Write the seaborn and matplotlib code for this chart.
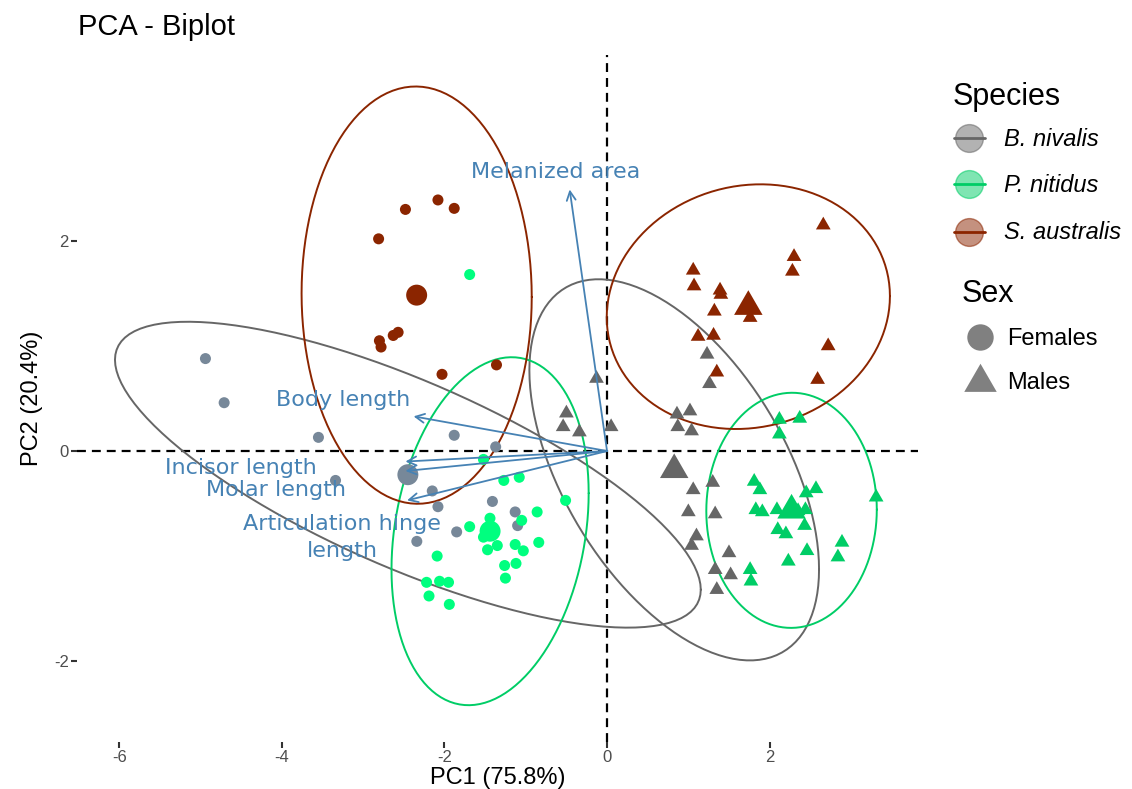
import numpy as np
import pandas as pd
import matplotlib
matplotlib.use("Agg")
import matplotlib.pyplot as plt
from matplotlib.colors import to_rgba
from matplotlib.lines import Line2D
import seaborn as sns

# PCA scores (PC1, PC2), by species and sex
bniv_fem_pc1 = [-4.94, -4.71, -3.55, -3.34, -1.88, -1.37, -2.15, -2.08, -1.41, -1.13, -1.10, -1.85, -2.34]
bniv_fem_pc2 = [0.88, 0.46, 0.13, -0.28, 0.15, 0.04, -0.38, -0.53, -0.48, -0.58, -0.71, -0.77, -0.86]
bniv_mal_pc1 = [-0.13, -0.50, -0.54, -0.34, 0.05, 1.23, 1.26, 0.86, 1.02, 0.87, 1.04, 1.30, 1.06,
                1.00, 1.33, 1.10, 1.04, 1.50, 1.33, 1.52, 1.35]
bniv_mal_pc2 = [0.69, 0.36, 0.23, 0.18, 0.23, 0.92, 0.64, 0.35, 0.38, 0.23, 0.19, -0.30, -0.37,
                -0.58, -0.60, -0.81, -0.90, -0.97, -1.13, -1.18, -1.32]
pnit_fem_pc1 = [-1.52, -1.27, -1.08, -0.51, -0.86, -1.05, -1.69, -1.44, -1.52, -1.47, -1.35, -1.13,
                -1.03, -0.84, -2.09, -1.26, -1.12, -1.25, -2.22, -2.06, -1.95, -2.19, -1.94, -1.69]
pnit_fem_pc2 = [-0.08, -0.28, -0.25, -0.47, -0.58, -0.66, -0.72, -0.64, -0.82, -0.94, -0.90, -0.89,
                -0.95, -0.87, -1.00, -1.09, -1.07, -1.21, -1.25, -1.24, -1.25, -1.38, -1.46, 1.68]
pnit_mal_pc1 = [2.12, 2.37, 2.12, 1.81, 1.88, 1.83, 1.91, 2.09, 2.35, 2.44, 2.45, 2.57, 2.43, 2.10,
                2.20, 2.46, 2.23, 2.89, 2.84, 3.31, 1.76, 1.77]
pnit_mal_pc2 = [0.30, 0.31, 0.16, -0.29, -0.37, -0.56, -0.58, -0.56, -0.57, -0.56, -0.40, -0.36,
                -0.71, -0.75, -0.79, -0.95, -1.05, -0.87, -1.01, -0.44, -1.13, -1.24]
saus_fem_pc1 = [-2.48, -2.08, -1.88, -2.81, -2.63, -2.57, -2.80, -2.78, -2.03, -1.36]
saus_fem_pc2 = [2.30, 2.39, 2.31, 2.02, 1.10, 1.13, 1.05, 0.99, 0.73, 0.82]
saus_mal_pc1 = [2.66, 2.30, 2.28, 1.06, 1.07, 1.39, 1.40, 1.76, 1.32, 1.12, 1.31, 2.72, 1.35, 2.59]
saus_mal_pc2 = [2.15, 1.85, 1.71, 1.72, 1.57, 1.53, 1.49, 1.27, 1.33, 1.09, 1.10, 1.00, 0.75, 0.68]

# variable arrows (loadings, scaled as in the biplot)
var_names = ["Melanized area", "Body length", "Incisor length", "Molar length",
             "Articulation hinge length"]
var_pc1 = [-0.46, -2.38, -2.48, -2.48, -2.46]
var_pc2 = [2.49, 0.33, -0.10, -0.19, -0.47]

species_names = ["B. nivalis", "P. nitidus", "S. australis"]
sex_names = ["Females", "Males"]

# colours
point_colors = {("B. nivalis", "Females"): "#778899", ("B. nivalis", "Males"): "#666666",
                ("P. nitidus", "Females"): "#00FF7F", ("P. nitidus", "Males"): "#00CD66",
                ("S. australis", "Females"): "#8B2500", ("S. australis", "Males"): "#8B2500"}
species_colors = {"B. nivalis": "#666666", "P. nitidus": "#00CD66", "S. australis": "#8B2500"}
arrow_col = "#4682B4"

# build long table
parts = [("B. nivalis", "Females", bniv_fem_pc1, bniv_fem_pc2),
         ("B. nivalis", "Males", bniv_mal_pc1, bniv_mal_pc2),
         ("P. nitidus", "Females", pnit_fem_pc1, pnit_fem_pc2),
         ("P. nitidus", "Males", pnit_mal_pc1, pnit_mal_pc2),
         ("S. australis", "Females", saus_fem_pc1, saus_fem_pc2),
         ("S. australis", "Males", saus_mal_pc1, saus_mal_pc2)]
df = pd.concat([pd.DataFrame({"species": sp, "sex": sx, "PC1": a, "PC2": b})
                for sp, sx, a, b in parts], ignore_index=True)
df["group"] = df["species"] + " " + df["sex"]
palette = {f"{sp} {sx}": c for (sp, sx), c in point_colors.items()}
means = df.groupby(["species", "sex", "group"], as_index=False)[["PC1", "PC2"]].mean()


def norm_ellipse(x, y, level=0.95, segments=120):
    # same construction as ggplot2 stat_ellipse(type = "norm")
    pts = np.column_stack([x, y])
    n = len(pts)
    center = pts.mean(axis=0)
    upper = np.linalg.cholesky(np.cov(pts, rowvar=False)).T
    dfd = n - 1
    qf = dfd / 2 * ((1 - level) ** (-2 / dfd) - 1)   # F(2, dfd) quantile
    radius = np.sqrt(2 * qf)
    ang = np.linspace(0, 2 * np.pi, segments + 1)
    circle = np.column_stack([np.cos(ang), np.sin(ang)])
    return center + radius * circle @ upper


# equilateral triangle like R pch 17, centred on its centroid
tri = [(0, 1), (-0.866, -0.5), (0.866, -0.5), (0, 1)]

sns.set_style("white")
plt.rcParams["font.family"] = ["Liberation Sans", "DejaVu Sans"]
plt.rcParams["axes.unicode_minus"] = False
plt.rcParams["text.color"] = "black"
plt.rcParams["axes.labelcolor"] = "black"

W, H = 1132, 789
fig = plt.figure(figsize=(W / 100, H / 100), dpi=100)
ax = fig.add_axes([77 / W, 1 - 742 / H, (918 - 77) / W, (742 - 55) / H])

ax.axhline(0, color="black", ls=(0, (4, 2.7)), lw=1.6, zorder=1)
ax.axvline(0, color="black", ls=(0, (4, 2.7)), lw=1.6, zorder=1)

for (sp, sx), g in df.groupby(["species", "sex"]):
    e = norm_ellipse(g["PC1"], g["PC2"])
    ax.plot(e[:, 0], e[:, 1], color=species_colors[sp], lw=1.4, zorder=2)

for sx, mk, s_pt, s_mean in [("Females", "o", 63, 228), ("Males", tri, 150, 560)]:
    sns.scatterplot(data=df[df["sex"] == sx], x="PC1", y="PC2", hue="group", palette=palette,
                    marker=mk, s=s_pt, linewidth=0, legend=False, ax=ax, zorder=3)
    sns.scatterplot(data=means[means["sex"] == sx], x="PC1", y="PC2", hue="group",
                    palette=palette, marker=mk, s=s_mean, linewidth=0, legend=False, ax=ax,
                    zorder=3)

for name, a, b in zip(var_names, var_pc1, var_pc2):
    ax.annotate("", xy=(a, b), xytext=(0, 0),
                arrowprops=dict(arrowstyle="->", color=arrow_col, lw=1.3,
                                mutation_scale=16, shrinkA=0, shrinkB=0), zorder=4)

# arrow labels (placed where the repel put them)
label_pos = {"Melanized area": (-0.63, 2.66), "Body length": (-3.25, 0.49),
             "Incisor length": (-4.51, -0.16), "Molar length": (-4.07, -0.37),
             "Articulation hinge length": (-3.26, -0.82)}
for name in var_names:
    txt = "Articulation hinge\nlength" if name.startswith("Articulation") else name
    lx, ly = label_pos[name]
    ax.text(lx, ly, txt, color=arrow_col, fontsize=16, family="DejaVu Sans",
            ha="center", va="center", linespacing=1.45, zorder=5)

ax.set_xlim(-6.52, 3.825)
ax.set_ylim(-2.77, 3.77)
ax.set_xticks([-6, -4, -2, 0, 2])
ax.set_yticks([-2, 0, 2])
ax.tick_params(bottom=True, left=True, length=4, width=1.5, color="#333333",
               labelcolor="#4D4D4D", labelsize=12, pad=2)
ax.set_xlabel("PC1 (75.8%)", fontsize=17, labelpad=1)
ax.set_ylabel("PC2 (20.4%)", fontsize=17, labelpad=8)
sns.despine(ax=ax, left=True, bottom=True)

fig.text(78 / W, 1 - 35 / H, "PCA - Biplot", fontsize=21, va="baseline")

# legends drawn by hand in figure pixels
def fx(px):
    return px / W


def fy(py):
    return 1 - py / H


fig.text(fx(953), fy(105), "Species", fontsize=22, va="baseline")
for sp, yc, yb in zip(species_names, [138, 184, 232], [146, 192, 239]):
    c = species_colors[sp]
    fig.add_artist(Line2D([fx(969)], [fy(yc)], marker="o", ms=20, ls="none",
                          mfc=to_rgba(c, 0.5), mec=to_rgba(c, 0.55), mew=1,
                          transform=fig.transFigure))
    fig.add_artist(Line2D([fx(954), fx(985)], [fy(yc)] * 2, color=c, lw=2,
                          transform=fig.transFigure))
    fig.text(fx(1004), fy(yb), sp, fontsize=17, style="italic", va="baseline")

fig.text(fx(962), fy(302), "Sex", fontsize=22, va="baseline")
fig.add_artist(Line2D([fx(980)], [fy(337)], marker="o", ms=19, ls="none", color="#808080",
                      mew=0, transform=fig.transFigure))
fig.add_artist(Line2D([fx(980)], [fy(382)], marker=tri, ms=27, ls="none", color="#808080",
                      mew=0, transform=fig.transFigure))
fig.text(fx(1007), fy(345), "Females", fontsize=17, va="baseline")
fig.text(fx(1007), fy(389), "Males", fontsize=17, va="baseline")

fig.savefig("out.png", dpi=100, facecolor="white")
